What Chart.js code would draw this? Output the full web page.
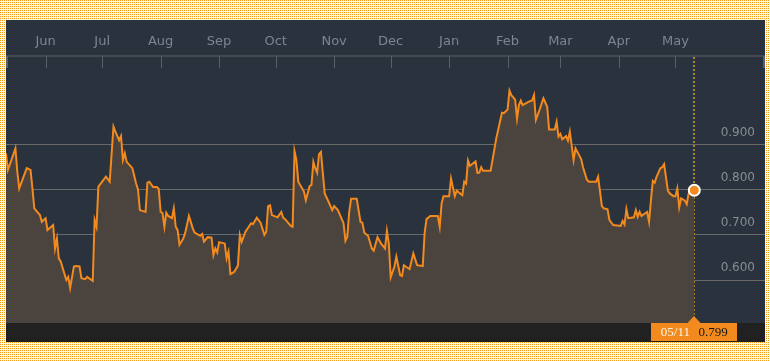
<!DOCTYPE html>
<html>
<head>
<meta charset="utf-8">
<script src="https://cdn.jsdelivr.net/npm/chart.js@4.4.0/dist/chart.umd.min.js"></script>
<style>
html, body { margin: 0; padding: 0; }
body {
  width: 770px; height: 361px; overflow: hidden; position: relative;
  background-color: #fff8d2;
  background-image: url("data:image/svg+xml;utf8,<svg xmlns='http://www.w3.org/2000/svg' width='2' height='2' shape-rendering='crispEdges'><rect width='2' height='2' fill='%23fff8d2'/><rect x='0' y='0' width='1' height='1' fill='%23f49a1c'/></svg>");
  background-size: 2px 2px;
}
#panel { position: absolute; left: 6px; top: 20px; width: 759px; height: 322px; background: #29323d; }
</style>
</head>
<body>
<div id="panel"><canvas id="chart" width="759" height="322"></canvas></div>
<script>
// x values are days counted from 05/11 of the previous year
var monthLabels = ['Jun', 'Jul', 'Aug', 'Sep', 'Oct', 'Nov', 'Dec', 'Jan', 'Feb', 'Mar', 'Apr', 'May'];
var monthDays = [21, 51, 82, 113, 143, 174, 204, 235, 266, 294, 325, 355];
var yTicks = [0.6, 0.7, 0.8, 0.9];
var lastLabel = '05/11';

var days = [0, 1, 5, 6, 7, 11, 13, 14, 15, 18, 19, 21, 22, 25, 26, 27, 28, 29, 32, 33,
  34, 36, 37, 39, 40, 42, 43, 46, 47, 48, 49, 51, 53, 55, 57, 58, 60, 61, 62, 63,
  64, 67, 69, 70, 71, 74, 75, 76, 78, 80, 81, 82, 83, 84, 85, 86, 88, 89, 90, 91,
  92, 94, 95, 97, 99, 100, 103, 104, 105, 107, 109, 110, 111, 112, 113, 116, 117, 118, 119, 121,
  123, 124, 125, 127, 130, 131, 133, 135, 137, 138, 139, 140, 141, 144, 146, 147, 148, 151, 152, 153,
  154, 155, 158, 159, 161, 162, 163, 164, 165, 166, 167, 169, 171, 173, 174, 176, 179, 180, 181, 182,
  183, 186, 188, 189, 190, 192, 194, 195, 197, 199, 201, 202, 203, 204, 206, 207, 209, 210, 211, 214,
  216, 218, 221, 222, 223, 225, 229, 230, 231, 232, 235, 236, 238, 239, 242, 243, 244, 245, 246, 249,
  250, 251, 252, 253, 257, 260, 263, 264, 266, 267, 268, 270, 271, 272, 273, 274, 277, 279, 280, 281,
  283, 285, 287, 288, 291, 292, 293, 294, 295, 297, 298, 299, 301, 302, 305, 306, 308, 309, 313, 314,
  316, 317, 319, 320, 322, 326, 327, 328, 329, 330, 333, 334, 335, 336, 337, 339, 340, 341, 342, 343,
  344, 345, 347, 348, 349, 351, 352, 354, 355, 356, 357, 358, 360, 361, 362, 363, 365];

var values = [0.881, 0.844, 0.892, 0.840, 0.803, 0.848, 0.844, 0.804, 0.759, 0.744, 0.729, 0.737, 0.711, 0.722, 0.670, 0.692, 0.648, 0.641, 0.600, 0.607,
  0.582, 0.630, 0.631, 0.630, 0.604, 0.602, 0.607, 0.598, 0.733, 0.718, 0.807, 0.818, 0.829, 0.818, 0.940, 0.929, 0.910, 0.919, 0.866, 0.881,
  0.862, 0.848, 0.814, 0.800, 0.755, 0.751, 0.816, 0.818, 0.806, 0.806, 0.802, 0.751, 0.749, 0.718, 0.749, 0.742, 0.737, 0.759, 0.718, 0.711,
  0.678, 0.692, 0.704, 0.742, 0.715, 0.705, 0.698, 0.702, 0.685, 0.695, 0.694, 0.655, 0.670, 0.661, 0.684, 0.681, 0.648, 0.663, 0.613, 0.618,
  0.632, 0.700, 0.685, 0.707, 0.726, 0.724, 0.738, 0.727, 0.700, 0.707, 0.764, 0.766, 0.744, 0.739, 0.751, 0.738, 0.735, 0.720, 0.718, 0.886,
  0.866, 0.818, 0.796, 0.777, 0.808, 0.811, 0.862, 0.848, 0.838, 0.879, 0.884, 0.792, 0.774, 0.755, 0.764, 0.755, 0.726, 0.687, 0.696, 0.751,
  0.780, 0.780, 0.729, 0.727, 0.705, 0.698, 0.670, 0.665, 0.695, 0.680, 0.670, 0.709, 0.681, 0.606, 0.630, 0.652, 0.611, 0.609, 0.633, 0.624,
  0.659, 0.633, 0.631, 0.704, 0.735, 0.742, 0.742, 0.718, 0.770, 0.786, 0.786, 0.825, 0.786, 0.798, 0.788, 0.818, 0.814, 0.865, 0.853, 0.863,
  0.837, 0.838, 0.850, 0.842, 0.842, 0.914, 0.971, 0.970, 0.978, 1.020, 1.010, 1.000, 0.958, 0.988, 0.998, 0.988, 0.995, 0.998, 1.010, 0.955,
  0.978, 1.003, 0.984, 0.934, 0.934, 0.951, 0.918, 0.924, 0.912, 0.919, 0.909, 0.929, 0.866, 0.892, 0.868, 0.850, 0.823, 0.818, 0.818, 0.829,
  0.764, 0.759, 0.757, 0.733, 0.722, 0.720, 0.731, 0.723, 0.757, 0.737, 0.739, 0.755, 0.740, 0.751, 0.742, 0.748, 0.751, 0.729, 0.776, 0.820,
  0.816, 0.829, 0.848, 0.850, 0.857, 0.798, 0.792, 0.786, 0.786, 0.803, 0.761, 0.781, 0.776, 0.768, 0.792, 0.796, 0.799];

var last = values.length - 1;

var overlay = {
  id: 'overlay',
  beforeDraw: function (chart) {
    var ctx = chart.ctx, a = chart.chartArea;
    ctx.save();
    ctx.fillStyle = '#212121';
    ctx.fillRect(0, a.bottom, chart.width, chart.height - a.bottom);
    ctx.restore();
  },
  beforeDatasetsDraw: function (chart) {
    var ctx = chart.ctx, a = chart.chartArea;
    var px = Math.round(chart.scales.x.getPixelForValue(days[last]));
    ctx.save();
    ctx.strokeStyle = '#a8842c';
    ctx.lineWidth = 2;
    ctx.setLineDash([2, 2]);
    ctx.beginPath();
    ctx.moveTo(px, a.top + 1);
    ctx.lineTo(px, a.bottom);
    ctx.stroke();
    ctx.restore();
  },
  afterDraw: function (chart) {
    var ctx = chart.ctx, a = chart.chartArea, x = chart.scales.x;
    ctx.save();
    // short month ticks below the header line
    ctx.strokeStyle = '#5b6068';
    ctx.lineWidth = 1;
    monthDays.forEach(function (d) {
      var px = Math.round(x.getPixelForValue(d)) + 0.5;
      ctx.beginPath();
      ctx.moveTo(px, a.top);
      ctx.lineTo(px, a.top + 12);
      ctx.stroke();
    });
    ctx.lineWidth = 2;
    [a.left + 1, a.right - 1].forEach(function (px) {
      ctx.beginPath();
      ctx.moveTo(px, a.top);
      ctx.lineTo(px, a.top + 12);
      ctx.stroke();
    });

    // last value tag
    var cx = Math.round(x.getPixelForValue(days[last]));
    var y0 = a.bottom;
    ctx.fillStyle = '#f28a1e';
    ctx.fillRect(cx - 43, y0, 86, 18);
    ctx.beginPath();
    ctx.moveTo(cx - 7, y0 + 0.5);
    ctx.lineTo(cx, y0 - 7);
    ctx.lineTo(cx + 7, y0 + 0.5);
    ctx.closePath();
    ctx.fill();
    ctx.font = '13px "Liberation Serif"';
    ctx.textBaseline = 'middle';
    ctx.textAlign = 'right';
    ctx.fillStyle = '#fff6e6';
    ctx.fillText(lastLabel, cx - 4, y0 + 9.5);
    ctx.textAlign = 'left';
    ctx.fillStyle = '#161616';
    ctx.fillText(values[last].toFixed(3), cx + 4.5, y0 + 9.5);
    ctx.restore();
  }
};

new Chart(document.getElementById('chart'), {
  type: 'line',
  data: {
    datasets: [{
      data: days.map(function (d, i) { return { x: d, y: values[i] }; }),
      borderColor: '#f28a1e',
      borderWidth: 2,
      backgroundColor: '#4b433e',
      fill: 'start',
      tension: 0,
      pointRadius: function (c) { return c.dataIndex === last ? 5.5 : 0; },
      pointHoverRadius: 0,
      pointBackgroundColor: '#f28a1e',
      pointBorderColor: '#ffffff',
      pointBorderWidth: 2
    }]
  },
  options: {
    responsive: false,
    animation: false,
    layout: { autoPadding: false, padding: { left: 0, right: 0, top: 0, bottom: 19 } },
    plugins: { legend: { display: false }, tooltip: { enabled: false } },
    scales: {
      x: {
        type: 'linear',
        position: 'top',
        min: 0,
        max: 402.5,
        afterBuildTicks: function (s) { s.ticks = monthDays.map(function (v) { return { value: v }; }); },
        afterFit: function (s) { s.height = 36; s.paddingLeft = 0; s.paddingRight = 0; },
        grid: { display: false, drawTicks: false },
        border: { display: true, color: '#454a52', width: 2 },
        ticks: {
          autoSkip: false,
          maxRotation: 0,
          padding: 7,
          color: '#7b8693',
          font: { family: 'DejaVu Sans', size: 13 },
          callback: function (v, i) { return monthLabels[i]; }
        }
      },
      y: {
        position: 'right',
        min: 0.5047,
        max: 1.0967,
        z: 1,
        afterBuildTicks: function (s) { s.ticks = yTicks.map(function (v) { return { value: v }; }); },
        afterFit: function (s) { s.width = 0; s.paddingTop = 0; s.paddingBottom = 0; },
        grid: { color: 'rgba(255,235,210,0.3)', lineWidth: 1, drawTicks: false },
        border: { display: false },
        ticks: {
          mirror: true,
          padding: -10,
          labelOffset: -12,
          color: '#878d95',
          font: { family: 'DejaVu Sans', size: 12 },
          callback: function (v) { return v.toFixed(3); }
        }
      }
    }
  },
  plugins: [overlay]
});
</script>
</body>
</html>
